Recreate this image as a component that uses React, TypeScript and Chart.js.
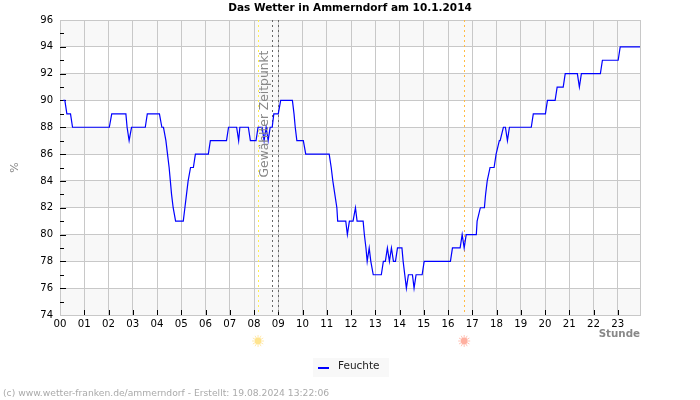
import { useEffect, useRef } from "react";
import { Chart, registerables } from "chart.js";

Chart.register(...registerables);

const TITLE = "Das Wetter in Ammerndorf am 10.1.2014";
const SERIES_NAME = "Feuchte";
const SELECTED_LABEL = "Gewählter Zeitpunkt";
const FOOTER = "(c) www.wetter-franken.de/ammerndorf - Erstellt: 19.08.2024 13:22:06";

// Minutes after midnight and relative humidity at each reading where the value changes.
const minutes = [
  8, 12, 17, 26, 31, 122, 128, 163, 166, 171, 177, 211, 216, 246, 252, 256, 262, 266, 270, 273,
  276, 280, 286, 305, 309, 313, 317, 323, 330, 335, 367, 372, 412, 417, 437, 442, 445, 466, 471,
  485, 490, 500, 505, 510, 515, 520, 525, 529, 540, 546, 575, 579, 582, 586, 602, 608, 666, 671,
  675, 680, 685, 687, 707, 711, 716, 725, 731, 735, 750, 753, 757, 760, 765, 769, 775, 795, 800,
  805, 810, 815, 820, 825, 830, 835, 846, 849, 853, 857, 862, 872, 876, 881, 896, 901, 966, 971,
  990, 995, 1000, 1005, 1030, 1032, 1040, 1050, 1053, 1057, 1064, 1074, 1079, 1087, 1089, 1097,
  1102, 1107, 1112, 1166, 1171, 1201, 1206, 1225, 1230, 1245, 1250, 1280, 1285, 1290, 1337, 1342,
  1381, 1386, 1435,
];
const humidity = [
  90, 90, 89, 89, 88, 88, 89, 89, 88, 87, 88, 88, 89, 89, 88, 88, 87, 86, 85, 84,
  83, 82, 81, 81, 82, 83, 84, 85, 85, 86, 86, 87, 87, 88, 88, 87, 88, 88, 87,
  87, 88, 88, 87, 88, 87, 88, 88, 89, 89, 90, 90, 89, 88, 87, 87, 86, 86, 85,
  84, 83, 82, 81, 81, 80, 81, 81, 82, 81, 81, 80, 79, 78, 79, 78, 77, 77, 78,
  78, 79, 78, 79, 78, 78, 79, 79, 78, 77, 76, 77, 77, 76, 77, 77, 78, 78, 79,
  79, 80, 79, 80, 80, 81, 82, 82, 83, 84, 85, 85, 86, 87, 87, 88,
  88, 87, 88, 88, 89, 89, 90, 90, 91, 91, 92, 92, 91, 92, 92, 93,
  93, 94, 94,
];

const sunriseMinute = 490;
const sunsetMinute = 1000;
const selectedMinutes = [525, 540];

const FONT = '"DejaVu Sans"';
const pad2 = (n: number) => String(n).padStart(2, "0");

function sun(ctx: CanvasRenderingContext2D, x: number, y: number, core: string, rays: string) {
  ctx.save();
  ctx.strokeStyle = rays;
  ctx.lineWidth = 1;
  for (let i = 0; i < 12; i++) {
    const a = (i * Math.PI) / 6;
    ctx.beginPath();
    ctx.moveTo(x + Math.cos(a) * 3.5, y + Math.sin(a) * 3.5);
    ctx.lineTo(x + Math.cos(a) * 6, y + Math.sin(a) * 6);
    ctx.stroke();
  }
  ctx.fillStyle = core;
  ctx.beginPath();
  ctx.arc(x, y, 3.4, 0, Math.PI * 2);
  ctx.fill();
  ctx.restore();
}

const decorations = {
  id: "decorations",
  beforeDraw(chart: any) {
    const { ctx, chartArea: a, scales } = chart;
    ctx.save();
    ctx.fillStyle = "#fff";
    ctx.fillRect(0, 0, chart.width, chart.height);
    // Alternating horizontal bands, every other 2 % step.
    ctx.fillStyle = "#f8f8f8";
    for (let v = 74; v < 96; v += 4) {
      const top = scales.y.getPixelForValue(v + 2);
      const bottom = scales.y.getPixelForValue(v);
      ctx.fillRect(a.left, top, a.right - a.left, bottom - top);
    }
    ctx.restore();
  },
  beforeDatasetsDraw(chart: any) {
    const { ctx, chartArea: a, scales } = chart;
    ctx.save();
    ctx.strokeStyle = "#c8c8c8";
    ctx.lineWidth = 1;
    ctx.strokeRect(a.left + 0.5, a.top + 0.5, a.right - a.left, a.bottom - a.top);

    // Tick marks point inward from the left and bottom edges.
    ctx.strokeStyle = "#000";
    for (let v = 75; v < 96; v++) {
      const y = Math.round(scales.y.getPixelForValue(v)) + 0.5;
      ctx.beginPath();
      ctx.moveTo(a.left, y);
      ctx.lineTo(a.left + (v % 2 === 0 ? 6 : 4), y);
      ctx.stroke();
    }
    for (let h = 1; h < 24; h++) {
      const x = Math.round(scales.x.getPixelForValue(h * 60)) + 0.5;
      ctx.beginPath();
      ctx.moveTo(x, a.bottom);
      ctx.lineTo(x, a.bottom - 5);
      ctx.stroke();
    }

    // Sunrise, sunset and the selected time span.
    const marker = (minute: number, color: string) => {
      const x = Math.round(scales.x.getPixelForValue(minute)) + 0.5;
      ctx.strokeStyle = color;
      ctx.setLineDash([2, 3]);
      ctx.beginPath();
      ctx.moveTo(x, a.top);
      ctx.lineTo(x, a.bottom);
      ctx.stroke();
      ctx.setLineDash([]);
    };
    marker(sunriseMinute, "#ffee55");
    marker(sunsetMinute, "#ffbb44");
    selectedMinutes.forEach((m) => marker(m, "#666"));
    ctx.restore();
  },
  afterDatasetsDraw(chart: any) {
    const { ctx, scales } = chart;
    ctx.save();
    // Caption for the selected time span.
    ctx.translate(scales.x.getPixelForValue(selectedMinutes[0]) - 7, 114);
    ctx.rotate(-Math.PI / 2);
    ctx.font = `12.3px ${FONT}`;
    ctx.fillStyle = "#888";
    ctx.textAlign = "center";
    ctx.textBaseline = "middle";
    ctx.fillText(SELECTED_LABEL, 0, 0);
    ctx.restore();

    sun(ctx, scales.x.getPixelForValue(sunriseMinute), 341, "#ffe48f", "#ffeab0");
    sun(ctx, scales.x.getPixelForValue(sunsetMinute), 341, "#ffb0a0", "#ffc4b8");

    ctx.save();
    // Heading, centred over the whole page width.
    ctx.fillStyle = "#000";
    ctx.font = `bold 10.5px ${FONT}`;
    ctx.textAlign = "center";
    ctx.textBaseline = "middle";
    ctx.fillText(TITLE, 350, 8);
    ctx.textAlign = "left";

    // Legend box.
    ctx.fillStyle = "#f8f8f8";
    ctx.fillRect(313, 358, 76, 19);
    ctx.fillStyle = "#0000ff";
    ctx.fillRect(318, 367, 11, 2);
    ctx.fillStyle = "#222";
    ctx.font = `10.5px ${FONT}`;
    ctx.fillText(SERIES_NAME, 338, 366.5);

    // Footer.
    ctx.fillStyle = "#aaa";
    ctx.font = `9.2px ${FONT}`;
    ctx.fillText(FOOTER, 3, 393.5);
    ctx.restore();
  },
};

export default function App() {
  const ref = useRef<HTMLCanvasElement>(null);

  useEffect(() => {
    const chart = new Chart(ref.current!, {
      type: "line",
      data: {
        datasets: [
          {
            label: SERIES_NAME,
            data: minutes.map((m, i) => ({ x: m, y: humidity[i] })),
            borderColor: "#0000ff",
            borderWidth: 1.2,
            pointRadius: 0,
            tension: 0,
            fill: false,
          },
        ],
      },
      options: {
        responsive: false,
        animation: false,
        layout: { padding: { left: 0, right: 60, top: 20, bottom: 59 } },
        plugins: {
          legend: { display: false },
          tooltip: { enabled: false },
          title: { display: false },
        },
        scales: {
          x: {
            type: "linear",
            min: 0,
            max: 1435,
            afterFit: (s: any) => {
              s.height = 26;
            },
            ticks: {
              stepSize: 60,
              includeBounds: false,
              autoSkip: false,
              maxRotation: 0,
              padding: 3,
              color: "#000",
              font: { family: FONT, size: 10.2 },
              callback: (v: any) => pad2(Number(v) / 60),
            },
            grid: { color: "#c8c8c8", drawTicks: false },
            border: { display: false },
            title: {
              display: true,
              text: "Stunde",
              align: "end",
              color: "#888",
              font: { family: FONT, size: 10.3, weight: "bold" },
              padding: 0,
            },
          },
          y: {
            min: 74,
            max: 96,
            afterFit: (s: any) => {
              s.width = 60;
            },
            ticks: {
              stepSize: 2,
              padding: 7,
              color: "#000",
              font: { family: FONT, size: 10 },
            },
            grid: { color: "#c8c8c8", drawTicks: false },
            border: { display: false },
            title: {
              display: true,
              text: "%",
              color: "#888",
              font: { family: FONT, size: 11 },
              padding: { top: 8.4, bottom: 0 },
            },
          },
        },
      },
      plugins: [decorations],
    } as any);
    return () => chart.destroy();
  }, []);

  return (
    <canvas
      ref={ref}
      width={700}
      height={400}
      style={{ position: "absolute", left: 0, top: 0, display: "block" }}
    />
  );
}
